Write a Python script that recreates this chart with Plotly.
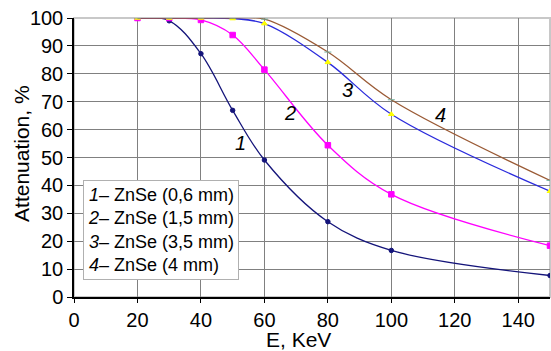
import plotly.graph_objects as go

energy = [20, 30, 40, 50, 60, 80, 100, 150]
s1 = [100, 99.0, 87.2, 66.9, 49.1, 27.0, 16.7, 7.7]
s2 = [100, 100, 99.3, 93.9, 81.5, 54.4, 36.8, 18.4]
s3 = [100, 100, 100, 99.8, 98.0, 84.1, 65.5, 37.9]
s4 = [100, 100, 100, 100, 99.6, 87.8, 70.7, 41.8]
legend_lines = ["<i>1</i>– ZnSe (0,6 mm)", "<i>2</i>– ZnSe (1,5 mm)",
                "<i>3</i>– ZnSe (3,5 mm)", "<i>4</i>– ZnSe (4 mm)"]
curve_labels = [("1", 52.4, 55.1), ("2", 68.2, 65.8), ("3", 86.1, 74.1), ("4", 115.4, 65.1)]

series = [
    (s1, "#14147a", "circle", 4.5, "#14147a"),
    (s2, "#ff00ff", "square", 5.5, "#ff00ff"),
    (s3, "#2b2bdc", "triangle-up", 5, "#ffff00"),
    (s4, "#9a5a35", "line-ew", 5, "#70b0a0"),
]

FONT = "Liberation Sans, Arial"
fig = go.Figure()
for ys, lc, sym, sz, mc in series:
    fig.add_trace(go.Scatter(
        x=energy, y=ys, mode="lines+markers",
        line=dict(color=lc, width=1.3, shape="spline", smoothing=1.0),
        marker=dict(symbol=sym, size=sz, color=mc, line=dict(color=mc, width=1)),
        showlegend=False, cliponaxis=True))

for txt, x, y in curve_labels:
    fig.add_annotation(x=x, y=y, text="<i>%s</i>" % txt, showarrow=False,
                       font=dict(family=FONT, size=20, color="black"))

fig.add_annotation(xref="paper", yref="paper", x=0.0193, y=0.0623, xanchor="left", yanchor="bottom",
                   text="<br>".join(legend_lines), showarrow=False, align="left",
                   bgcolor="white", bordercolor="#b0b0b0", borderwidth=1, borderpad=4,
                   font=dict(family=FONT, size=18, color="black"))

# axis titles
fig.add_annotation(xref="paper", yref="paper", x=0.471, y=-0.153, xanchor="center", yanchor="middle",
                   text="E, KeV", showarrow=False, font=dict(family=FONT, size=21, color="black"))
fig.add_annotation(xref="paper", yref="paper", x=-0.110, y=0.515, xanchor="center", yanchor="middle",
                   text="Attenuation, %", textangle=-90, showarrow=False,
                   font=dict(family=FONT, size=21, color="black"))

fig.add_shape(type="rect", xref="paper", yref="paper", x0=0, y0=0, x1=1, y1=1,
              line=dict(color="#c8c8c8", width=2), layer="below")

axis_font = dict(family=FONT, size=20, color="black")
fig.update_layout(
    width=551, height=351,
    margin=dict(l=73.5, r=1, t=17.5, b=54.3),
    paper_bgcolor="white", plot_bgcolor="white",
    font=dict(family=FONT, color="black"),
    xaxis=dict(range=[0, 150], tickvals=[0, 20, 40, 60, 80, 100, 120, 140],
               showgrid=True, gridcolor="#808080", gridwidth=1,
               showline=True, linecolor="black", linewidth=1.5,
               ticks="outside", ticklen=4, tickcolor="black",
               tickfont=axis_font, zeroline=False, automargin=False),
    yaxis=dict(range=[0, 100], tickvals=list(range(0, 101, 10)),
               showgrid=True, gridcolor="#808080", gridwidth=1,
               showline=True, linecolor="black", linewidth=1.5,
               ticks="outside", ticklen=5, tickcolor="black",
               tickfont=axis_font, zeroline=False, automargin=False),
)
fig.write_html("out.html", config={"displayModeBar": False},
               post_script="document.body.style.margin='0';")
